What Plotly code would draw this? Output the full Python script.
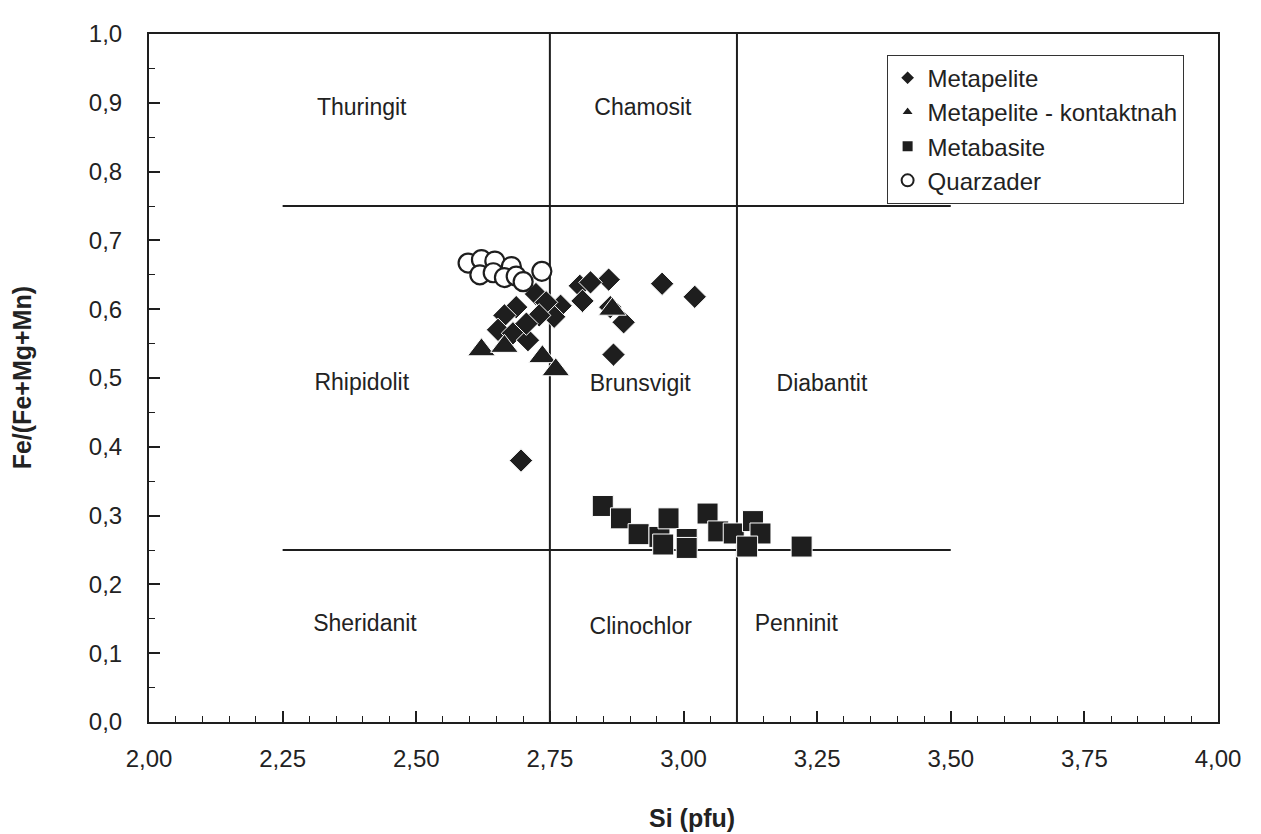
import plotly.graph_objects as go

# ---------------- data ----------------
metapelite_x = [2.860, 2.960, 3.021, 2.806, 2.826, 2.811, 2.888, 2.869, 2.863, 2.770, 2.758,
                2.724, 2.743, 2.730, 2.687, 2.665, 2.653, 2.681, 2.709, 2.706, 2.696]
metapelite_y = [0.643, 0.637, 0.618, 0.634, 0.639, 0.612, 0.581, 0.534, 0.603, 0.605, 0.589,
                0.622, 0.610, 0.591, 0.603, 0.591, 0.570, 0.565, 0.555, 0.579, 0.380]

kontakt_x = [2.622, 2.665, 2.736, 2.761, 2.867]
kontakt_y = [0.541, 0.546, 0.531, 0.512, 0.600]

metabasite_x = [2.849, 2.883, 2.916, 2.955, 2.972, 2.962, 3.006, 3.006, 3.045, 3.065,
                3.094, 3.130, 3.144, 3.119, 3.221]
metabasite_y = [0.314, 0.296, 0.273, 0.269, 0.296, 0.258, 0.266, 0.253, 0.303, 0.277,
                0.274, 0.292, 0.274, 0.255, 0.255]

quarz_x = [2.597, 2.622, 2.647, 2.678, 2.619, 2.644, 2.665, 2.687, 2.700, 2.735]
quarz_y = [0.667, 0.672, 0.670, 0.662, 0.650, 0.653, 0.646, 0.648, 0.640, 0.655]

# field boundaries
h_bound_y = [0.25, 0.75]
h_bound_x = [2.25, 3.50]
v_bound_x = [2.75, 3.10]
v_bound_y = [0.0, 1.0]

# field names
field_names = ["Thuringit", "Chamosit", "Rhipidolit", "Brunsvigit", "Diabantit",
               "Sheridanit", "Clinochlor", "Penninit"]
field_x = [2.398, 2.924, 2.398, 2.919, 3.259, 2.404, 2.920, 3.211]
field_y = [0.891, 0.891, 0.491, 0.489, 0.489, 0.140, 0.136, 0.140]

x_ticks = [2.00, 2.25, 2.50, 2.75, 3.00, 3.25, 3.50, 3.75, 4.00]
y_ticks = [0.0, 0.1, 0.2, 0.3, 0.4, 0.5, 0.6, 0.7, 0.8, 0.9, 1.0]

# ---------------- figure ----------------
INK = "#1e1e1e"
TXT = "#222222"
FONT = "Liberation Sans, Arial, sans-serif"

fig = go.Figure()

for yv in h_bound_y:
    fig.add_trace(go.Scatter(x=h_bound_x, y=[yv, yv], mode="lines",
                             line=dict(color=INK, width=2), showlegend=False,
                             hoverinfo="skip"))
for xv in v_bound_x:
    fig.add_trace(go.Scatter(x=[xv, xv], y=v_bound_y, mode="lines",
                             line=dict(color=INK, width=2), showlegend=False,
                             hoverinfo="skip"))

fig.add_trace(go.Scatter(x=metapelite_x, y=metapelite_y, mode="markers", name="Metapelite",
                         marker=dict(symbol="diamond", size=18, color=INK,
                                     line=dict(color="white", width=1))))
fig.add_trace(go.Scatter(x=kontakt_x, y=kontakt_y, mode="markers",
                         name="Metapelite - kontaktnah",
                         marker=dict(symbol="triangle-up", size=24, color=INK,
                                     line=dict(color="white", width=1))))
fig.add_trace(go.Scatter(x=metabasite_x, y=metabasite_y, mode="markers", name="Metabasite",
                         marker=dict(symbol="square", size=21, color=INK,
                                     line=dict(color="white", width=1))))
fig.add_trace(go.Scatter(x=quarz_x, y=quarz_y, mode="markers", name="Quarzader",
                         marker=dict(symbol="circle", size=19, color="white",
                                     line=dict(color=INK, width=2.2))))

fig.add_trace(go.Scatter(x=field_x, y=field_y, mode="text", text=field_names,
                         textfont=dict(family=FONT, size=23, color=TXT),
                         showlegend=False, hoverinfo="skip"))

axis_common = dict(showline=True, mirror=True, linecolor=INK, linewidth=2,
                   showgrid=False, zeroline=False, ticks="inside", ticklen=11,
                   tickwidth=1.5, tickcolor=INK,
                   tickfont=dict(family=FONT, size=24, color=TXT))

fig.update_xaxes(range=[2.0, 4.0], tickvals=x_ticks, tickformat=".2f",
                 minor=dict(ticks="inside", dtick=0.05, tick0=2.0, ticklen=6,
                            tickwidth=1.2, tickcolor=INK),
                 ticklabelstandoff=14, **axis_common)
fig.update_yaxes(range=[0.0, 1.0], tickvals=y_ticks, tickformat=".1f",
                 minor=dict(ticks="inside", dtick=0.05, tick0=0.0, ticklen=6,
                            tickwidth=1.2, tickcolor=INK),
                 ticklabelstandoff=20, **axis_common)

# the page body adds an 8px offset; figure is sized so the plot area lands where the reference has it
fig.add_annotation(text="<b>Si (pfu)</b>", xref="paper", yref="paper",
                   x=0.5083, y=-0.14, xanchor="center", yanchor="middle",
                   showarrow=False, font=dict(family=FONT, size=25, color=TXT))
fig.add_annotation(text="<b>Fe/(Fe+Mg+Mn)</b>", xref="paper", yref="paper",
                   x=-0.1185, y=0.5, xanchor="center", yanchor="middle", textangle=-90,
                   showarrow=False, font=dict(family=FONT, size=25, color=TXT))

fig.update_layout(
    width=1245, height=826,
    margin=dict(l=141, r=24, t=14, b=112),
    paper_bgcolor="white", plot_bgcolor="white",
    separators=", ",
    font=dict(family=FONT, color=TXT),
    legend=dict(x=0.69, y=0.97, xanchor="left", yanchor="top",
                bgcolor="white", bordercolor="#333333", borderwidth=1,
                font=dict(family=FONT, size=24, color=TXT),
                itemsizing="constant", tracegroupgap=0),
)

fig.write_html("out.html")
